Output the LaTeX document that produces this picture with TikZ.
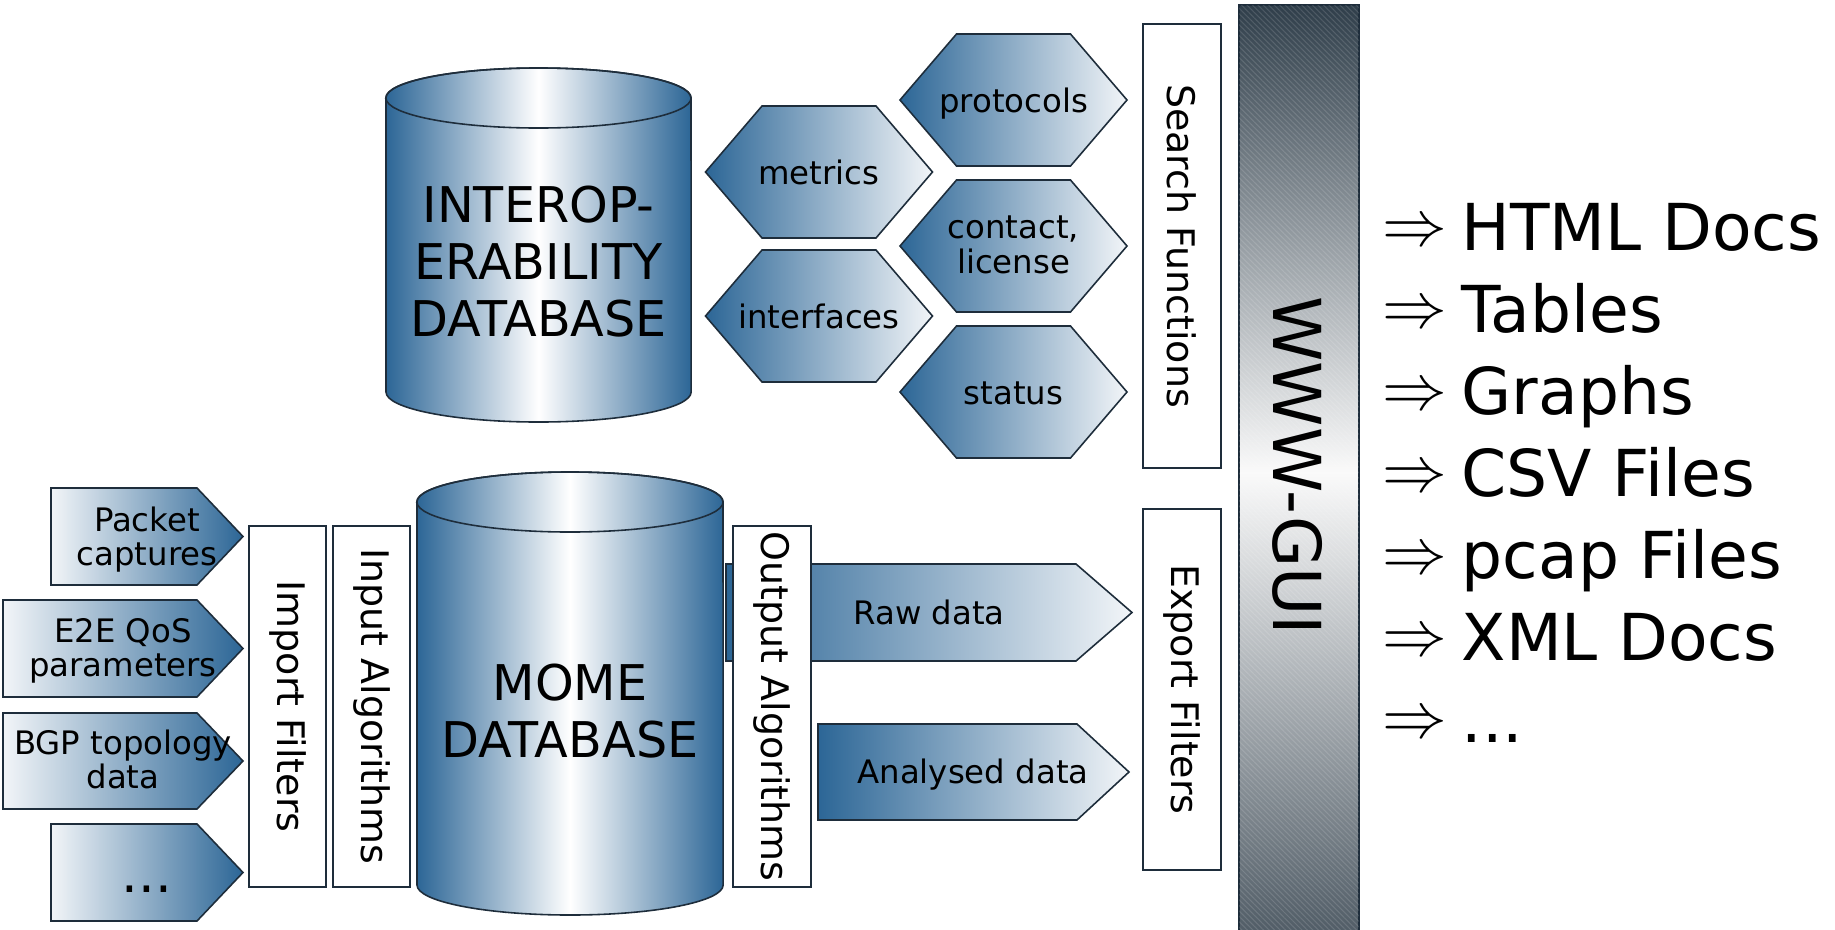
\documentclass[tikz,border=0pt]{standalone}
\usepackage{graphicx}
\usepackage{fontspec}
\setmainfont{DejaVu Sans}
\usetikzlibrary{patterns.meta}
\definecolor{dblue}{RGB}{44,102,150}
\definecolor{lblue}{RGB}{242,245,248}
\definecolor{edge}{RGB}{30,45,59}
\definecolor{bardark}{RGB}{47,62,74}
\definecolor{barbot}{RGB}{78,90,100}
\begin{document}
\begin{tikzpicture}[x=0.01cm,y=-0.01cm,
  outl/.style={draw=edge,line width=0.45pt},
  lbox/.style={outl,fill=white,inner sep=0pt,rotate=-90,font=\fontsize{10.8}{13}\selectfont},
  hexfill/.style={outl,left color=dblue,right color=lblue},
  inarrow/.style={outl,left color=lblue,right color=dblue},
  outarrow/.style={outl,left color=dblue,right color=lblue},
  cylfill/.style={outl,left color=dblue,right color=dblue,middle color=white},
  small/.style={font=\fontsize{9.2}{9.7}\selectfont,align=center,inner sep=0pt},
  big/.style={font=\fontsize{14}{16.2}\selectfont,align=center,inner sep=0pt},
  listtxt/.style={font=\fontsize{18.4}{22}\selectfont,inner sep=0pt,anchor=base west},
  listarr/.style={font=\normalsize,inner sep=0pt,anchor=base west},
]
\useasboundingbox (0,0) rectangle (1835,930);

% ---- INTEROPERABILITY cylinder
\path[cylfill] (386,98) -- (386,392) arc[start angle=180,end angle=360,x radius=1.525cm,y radius=0.3cm]
  -- (691,98) arc[start angle=0,end angle=180,x radius=1.525cm,y radius=0.3cm] -- cycle;
\draw[outl] (538.5,98) ellipse[x radius=1.525cm,y radius=0.3cm];
\node[big] (interop) at (538.5,262) {INTEROP-\\ERABILITY\\DATABASE};

% ---- hexagons
\path[hexfill] (900,100) -- ++(56.5,-66) -- ++(114,0) -- ++(56.5,66) -- ++(-56.5,66) -- ++(-114,0) -- cycle;
\path[hexfill] (705.5,172) -- ++(56.5,-66) -- ++(114,0) -- ++(56.5,66) -- ++(-56.5,66) -- ++(-114,0) -- cycle;
\path[hexfill] (900,246) -- ++(56.5,-66) -- ++(114,0) -- ++(56.5,66) -- ++(-56.5,66) -- ++(-114,0) -- cycle;
\path[hexfill] (705.5,316) -- ++(56.5,-66) -- ++(114,0) -- ++(56.5,66) -- ++(-56.5,66) -- ++(-114,0) -- cycle;
\path[hexfill] (900,392) -- ++(56.5,-66) -- ++(114,0) -- ++(56.5,66) -- ++(-56.5,66) -- ++(-114,0) -- cycle;
\node[small,anchor=base] (protocols) at (1013.5,112) {protocols};
\node[small,anchor=base] (metrics) at (819,184) {metrics};
\node[small,font=\fontsize{9.2}{10}\selectfont] (contact) at (1013.5,245) {contact,\\license};
\node[small,anchor=base] (interfaces) at (819,328) {interfaces};
\node[small,anchor=base] (status) at (1013.5,404) {status};

% ---- input pentagons
\path[inarrow] (51,488) -- (197,488) -- (243,536.5) -- (197,585) -- (51,585) -- cycle;
\path[inarrow] (3,600) -- (197,600) -- (243,648.5) -- (197,697) -- (3,697) -- cycle;
\path[inarrow] (3,713) -- (197,713) -- (243,761) -- (197,809) -- (3,809) -- cycle;
\path[inarrow] (51,824) -- (197,824) -- (243,872.5) -- (197,921) -- (51,921) -- cycle;
\node[small] (packet) at (147,540) {Packet\\captures};
\node[small] (e2e) at (123,651) {E2E QoS\\parameters};
\node[small] (bgp) at (123,759) {BGP topology\\data};
\node[small,anchor=base,font=\fontsize{15}{16}\selectfont] (moredata) at (147,892) {...};

% ---- MOME cylinder
\path[cylfill] (417,502) -- (417,885) arc[start angle=180,end angle=360,x radius=1.53cm,y radius=0.3cm]
  -- (723,502) arc[start angle=0,end angle=180,x radius=1.53cm,y radius=0.3cm] -- cycle;
\draw[outl] (570,502) ellipse[x radius=1.53cm,y radius=0.3cm];
\node[big] (mome) at (570,711) {MOME\\DATABASE};

% ---- output arrows
\path[outarrow] (726,564) -- (1076,564) -- (1132,612.5) -- (1076,661) -- (726,661) -- cycle;
\path[outarrow] (818,724) -- (1077,724) -- (1129,772) -- (1077,820) -- (818,820) -- cycle;
\node[small,anchor=base] (raw) at (929,624) {Raw data};
\node[small,anchor=base] (analysed) at (973,783) {Analysed data};

% ---- label boxes
\node[lbox,minimum width=3.61cm,minimum height=0.77cm] (import) at (287.5,706.5) {Import Filters};
\node[lbox,minimum width=3.61cm,minimum height=0.77cm] (inalg) at (371.5,706.5) {Input Algorithms};
\node[lbox,minimum width=3.61cm,minimum height=0.78cm] (outalg) at (772,706.5) {Output Algorithms};
\node[lbox,minimum width=4.44cm,minimum height=0.78cm] (search) at (1182,246) {Search Functions};
\node[lbox,minimum width=3.61cm,minimum height=0.78cm] (export) at (1182,689.5) {Export Filters};

% ---- WWW-GUI bar
\path[draw=edge,line width=0.5pt,top color=bardark,bottom color=barbot,middle color=white!96!gray]
  (1239,5) rectangle (1359,940);
\fill[pattern={Lines[angle=-45,distance=1.1pt,line width=0.3pt]},pattern color=white,opacity=0.13]
  (1239,5) rectangle (1359,930);
\node[font=\fontsize{18.8}{22}\selectfont,rotate=-90,inner sep=0pt] (gui) at (1298,466) {WWW-GUI};

% ---- output list
\node[listarr] (a1) at (1382,245) {\scalebox{1.84}{$\Rightarrow$}};
\node[listarr] (a2) at (1382,327) {\scalebox{1.84}{$\Rightarrow$}};
\node[listarr] (a3) at (1382,409) {\scalebox{1.84}{$\Rightarrow$}};
\node[listarr] (a4) at (1382,491) {\scalebox{1.84}{$\Rightarrow$}};
\node[listarr] (a5) at (1382,573) {\scalebox{1.84}{$\Rightarrow$}};
\node[listarr] (a6) at (1382,655) {\scalebox{1.84}{$\Rightarrow$}};
\node[listarr] (a7) at (1382,737) {\scalebox{1.84}{$\Rightarrow$}};
\node[listtxt] (t1) at (1461,250) {HTML Docs};
\node[listtxt] (t2) at (1461,332) {Tables};
\node[listtxt] (t3) at (1461,414) {Graphs};
\node[listtxt] (t4) at (1461,496) {CSV Files};
\node[listtxt] (t5) at (1461,578) {pcap Files};
\node[listtxt] (t6) at (1461,660) {XML Docs};
\node[listtxt] (t7) at (1461,742) {...};
\end{tikzpicture}
\end{document}
